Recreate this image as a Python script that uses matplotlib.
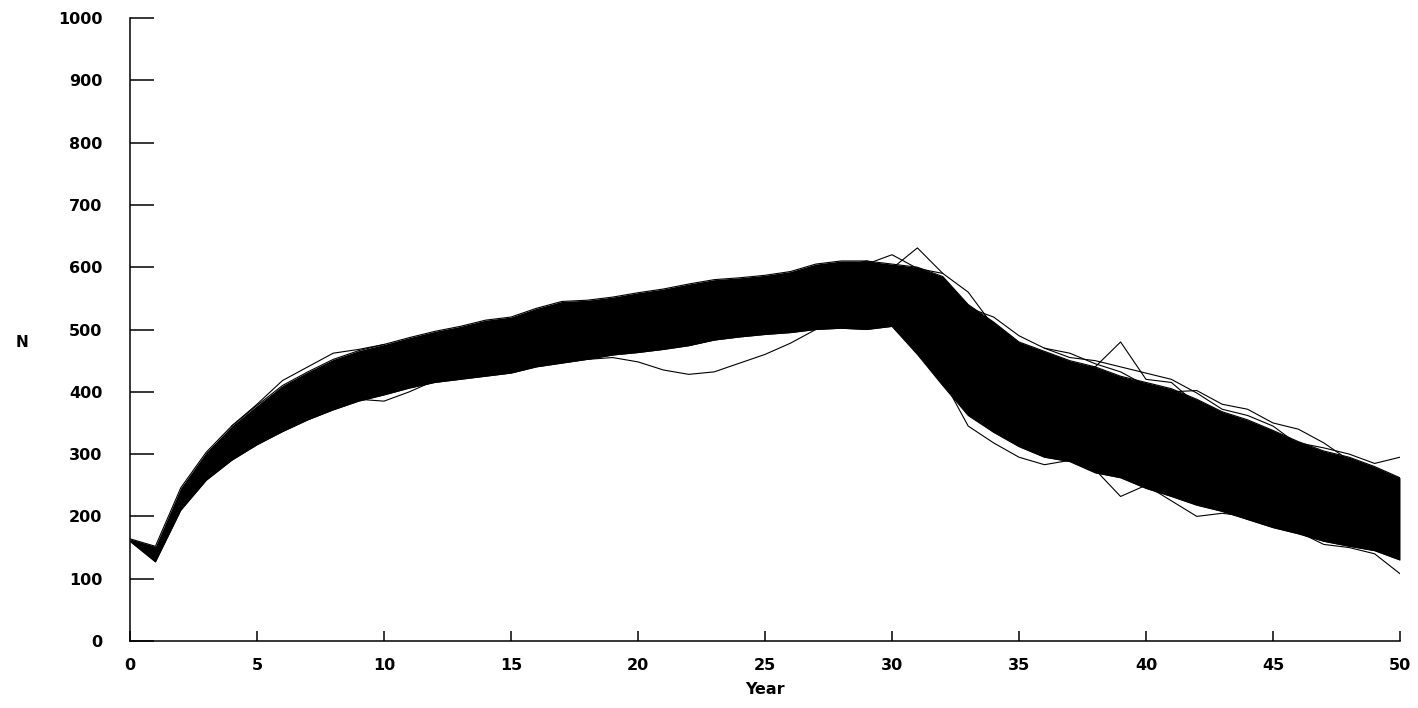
import matplotlib.pyplot as plt

# Simulation years
years = list(range(0, 51))

# Upper and lower limits of the bulk of the simulated trajectories
upper = [164, 152, 246, 303, 345, 378, 410, 432, 452, 466,
         476, 487, 497, 505, 515, 520, 534, 545, 547, 552,
         559, 565, 573, 580, 583, 587, 593, 605, 610, 610,
         605, 600, 585, 540, 512, 480, 465, 450, 440, 425,
         415, 405, 388, 368, 355, 338, 320, 305, 295, 280,
         262]
lower = [160, 127, 210, 258, 290, 315, 336, 355, 371, 385,
         395, 406, 415, 420, 425, 430, 440, 446, 452, 459,
         463, 468, 474, 483, 488, 492, 495, 500, 502, 500,
         505, 460, 410, 362, 335, 312, 295, 288, 270, 262,
         245, 232, 218, 208, 195, 182, 172, 160, 152, 145,
         130]

# Single runs that stray outside the bulk: (years, N)
stray_runs = [
    (list(range(18, 28)), [452, 455, 448, 435, 428, 432, 446, 460, 478, 500]),
    (list(range(28, 35)), [600, 610, 598, 631, 590, 560, 505]),
    (list(range(29, 33)), [605, 620, 598, 590]),
    (list(range(37, 43)), [440, 440, 480, 420, 415, 380]),
    (list(range(46, 51)), [318, 310, 300, 285, 295]),
    (list(range(46, 51)), [175, 155, 150, 140, 108]),
    (list(range(4, 11)), [345, 380, 418, 440, 462, 468, 476]),
    (list(range(9, 13)), [388, 385, 400, 418]),
    (list(range(32, 38)), [420, 345, 318, 295, 283, 290]),
    (list(range(36, 47)), [470, 455, 450, 440, 430, 420, 398, 372, 362, 345, 315]),
    (list(range(38, 45)), [275, 232, 250, 225, 200, 205, 200]),
    (list(range(33, 41)), [535, 520, 490, 470, 462, 445, 432, 410]),
    (list(range(40, 49)), [412, 400, 402, 380, 372, 350, 340, 318, 290]),
]

y_ticks = list(range(0, 1001, 100))
x_ticks = list(range(0, 51, 5))

fig = plt.figure(figsize=(14.18, 7.08), dpi=100)
ax = fig.add_axes([130 / 1418, 67 / 708, 1270 / 1418, 623 / 708])

ax.fill_between(years, lower, upper, color='black', lw=0)
ax.plot(years, upper, color='black', lw=0.8)
ax.plot(years, lower, color='black', lw=0.8)
for xs, ys in stray_runs:
    ax.plot(xs, ys, color='black', lw=0.8)

ax.set_xlim(0, 50)
ax.set_ylim(0, 1000)
ax.set_xticks(x_ticks)
ax.set_yticks(y_ticks)
ax.spines['top'].set_visible(False)
ax.spines['right'].set_visible(False)
ax.spines['left'].set_linewidth(1.1)
ax.spines['bottom'].set_linewidth(1.1)
ax.tick_params(axis='y', direction='in', length=17.5, width=1.1, pad=20)
ax.tick_params(axis='x', direction='in', length=7.2, width=1.1, pad=12)
for lab in ax.get_xticklabels() + ax.get_yticklabels():
    lab.set_fontweight('bold')
    lab.set_fontsize(11.5)

ax.set_xlabel('Year', fontsize=11.5, fontweight='bold', labelpad=7)
fig.text(22 / 1418, 1 - 342 / 708, 'N', fontsize=11, fontweight='bold',
         ha='center', va='center')

fig.savefig('out.png', dpi=100)
